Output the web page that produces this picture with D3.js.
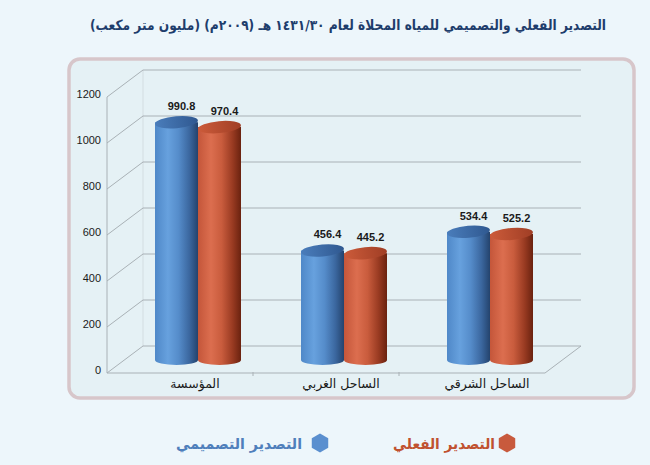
<!DOCTYPE html>
<html><head><meta charset="utf-8">
<script src="https://cdn.jsdelivr.net/npm/d3@7"></script>
<style>
html,body{margin:0;padding:0;background:#edf6fb;}
svg{display:block;}
</style></head>
<body>
<svg id="chart" width="650" height="465"></svg>
<script>
const titleText = "التصدير الفعلي والتصميمي للمياه المحلاة لعام ١٤٣١/٣٠ هـ (٢٠٠٩م) (مليون متر مكعب)";
const categories = ["المؤسسة", "الساحل الغربي", "الساحل الشرقي"];
const seriesNames = ["التصدير التصميمي", "التصدير الفعلي"];
const designValues = [990.8, 456.4, 534.4];
const actualValues = [970.4, 445.2, 525.2];
const yTicks = [0, 200, 400, 600, 800, 1000, 1200];

const svg = d3.select("#chart");
const defs = svg.append("defs");

function hGrad(id, stops){
  const g = defs.append("linearGradient").attr("id", id).attr("x1","0%").attr("x2","100%").attr("y1","0%").attr("y2","0%");
  stops.forEach(s => g.append("stop").attr("offset", s[0]).attr("stop-color", s[1]));
}
hGrad("bodyBlue", [[0,"#4f88c8"],[0.3,"#67a1de"],[0.55,"#558cca"],[0.8,"#3b679f"],[1,"#24436d"]]);
hGrad("bodyRed", [[0,"#c4563a"],[0.3,"#dc6e4f"],[0.55,"#c95c3d"],[0.8,"#9a3b22"],[1,"#6a220f"]]);
hGrad("topBlue", [[0,"#4a7dbb"],[1,"#2f5890"]]);
hGrad("topRed", [[0,"#cc5b3a"],[1,"#a03e25"]]);
const bodyFill = ["url(#bodyBlue)", "url(#bodyRed)"];
const topFill = ["url(#topBlue)", "url(#topRed)"];
const legendFill = ["#5a8fcf", "#c85a3d"];
const legendText = ["#4f7fbb", "#c0512f"];

// Title
svg.append("text")
  .attr("x", 348).attr("y", 30)
  .attr("text-anchor", "middle")
  .attr("direction", "rtl")
  .attr("font-family", "DejaVu Sans, sans-serif")
  .attr("font-weight", "bold")
  .attr("font-size", 14)
  .attr("fill", "#1e3d6c")
  .attr("textLength", 516)
  .attr("lengthAdjust", "spacingAndGlyphs")
  .text(titleText);

// Panel
svg.append("rect")
  .attr("x", 69).attr("y", 59).attr("width", 565).attr("height", 339)
  .attr("rx", 11).attr("ry", 11)
  .attr("fill", "#e5f1f5").attr("stroke", "#d7c6ca").attr("stroke-width", 3.5);

// Scales
const depthX = 36, depthY = -27;
const yFront = d3.scaleLinear().domain([0, 1200]).range([373, 97]);
const xBand = d3.scaleBand().domain(categories).range([107, 545]).padding(0);
const barW = 43;
const xSeries = d3.scaleBand().domain(seriesNames).range([-barW, barW]).padding(0);
const yBar = d3.scaleLinear().domain([0, 1200]).range([360, 72]);

const grid = svg.append("g").attr("stroke", "#a9b1b6").attr("stroke-width", 1).attr("fill", "none");
yTicks.forEach(v => {
  const yf = yFront(v);
  grid.append("line").attr("x1", 107 + depthX).attr("x2", 545 + depthX).attr("y1", yf + depthY).attr("y2", yf + depthY);
  grid.append("line").attr("x1", 107).attr("y1", yf).attr("x2", 107 + depthX).attr("y2", yf + depthY);
});
grid.append("line").attr("x1", 107).attr("x2", 107).attr("y1", yFront(1200)).attr("y2", yFront(0));
grid.append("line").attr("x1", 107 + depthX).attr("x2", 107 + depthX).attr("y1", yFront(1200) + depthY).attr("y2", yFront(0) + depthY).attr("stroke-opacity", 0.3);
grid.append("line").attr("x1", 107).attr("x2", 545).attr("y1", yFront(0)).attr("y2", yFront(0));
grid.append("line").attr("x1", 545).attr("y1", yFront(0)).attr("x2", 545 + depthX).attr("y2", yFront(0) + depthY);
categories.slice(1).forEach(c => {
  const x = xBand(c);
  grid.append("line").attr("x1", x).attr("x2", x).attr("y1", yFront(0) - 1).attr("y2", yFront(0) + 3);
});

// Y axis labels via d3 axis
const yAxisG = svg.append("g")
  .attr("transform", "translate(104,-3)")
  .call(d3.axisLeft(yFront).tickValues(yTicks).tickSize(0).tickPadding(3).tickFormat(d3.format("d")));
yAxisG.select(".domain").remove();
yAxisG.selectAll("text")
  .attr("font-family", "Liberation Sans, Arial, sans-serif")
  .attr("font-size", 11).attr("fill", "#1a1a1a");

// Category labels
svg.append("g").selectAll("text").data(categories).join("text")
  .attr("x", d => xBand(d) + xBand.bandwidth() / 2 + 15)
  .attr("y", 388)
  .attr("text-anchor", "middle")
  .attr("direction", "rtl")
  .attr("font-family", "DejaVu Sans, sans-serif")
  .attr("font-size", 12.5)
  .attr("fill", "#1a1a1a")
  .text(d => d);

// Bars (cylinders)
const rows = [];
categories.forEach((c, i) => {
  [designValues[i], actualValues[i]].forEach((v, s) => rows.push({cat: c, s, name: seriesNames[s], v}));
});
const rx = barW / 2, ryTop = 6, ryBot = 5;
const barCx = d => xBand(d.cat) + xBand.bandwidth() / 2 + depthX / 2 + xSeries(d.name) + rx;
const bars = svg.append("g").selectAll("g").data(rows).join("g")
  .attr("transform", d => `translate(${barCx(d)},0)`);
bars.append("path")
  .attr("d", d => {
    const yt = yBar(d.v), yb = yBar(0);
    return `M${-rx},${yt} L${-rx},${yb} A${rx},${ryBot} 0 0 0 ${rx},${yb} L${rx},${yt} Z`;
  })
  .attr("fill", d => bodyFill[d.s]);
bars.append("ellipse")
  .attr("cx", 0).attr("cy", d => yBar(d.v))
  .attr("rx", rx).attr("ry", ryTop)
  .attr("transform", d => `rotate(-5,0,${yBar(d.v)})`)
  .attr("fill", d => topFill[d.s]);

// Value labels
svg.append("g").selectAll("text").data(rows).join("text")
  .attr("x", d => barCx(d) + 5)
  .attr("y", d => yBar(d.v) - 12)
  .attr("text-anchor", "middle")
  .attr("font-family", "Liberation Sans, Arial, sans-serif")
  .attr("font-weight", "bold")
  .attr("font-size", 11)
  .attr("fill", "#1a1a1a")
  .text(d => d3.format(".1f")(d.v));

// Legend
function hexPath(cx, cy, r){
  const pts = d3.range(6).map(k => {
    const a = Math.PI / 3 * k - Math.PI / 2;
    return [cx + r * Math.cos(a), cy + r * Math.sin(a)];
  });
  return "M" + pts.map(p => p.join(",")).join("L") + "Z";
}
const legendItems = [
  {s: 0, hx: 320, tx: 239, w: 126},
  {s: 1, hx: 507, tx: 444, w: 102}
];
const lg = svg.append("g");
legendItems.forEach(it => {
  lg.append("path").attr("d", hexPath(it.hx, 443, 9.5)).attr("fill", legendFill[it.s]);
  lg.append("text")
    .attr("x", it.tx).attr("y", 449)
    .attr("text-anchor", "middle")
    .attr("direction", "rtl")
    .attr("font-family", "DejaVu Sans, sans-serif")
    .attr("font-weight", "bold")
    .attr("font-size", 15)
    .attr("fill", legendText[it.s])
    .attr("textLength", it.w)
    .attr("lengthAdjust", "spacingAndGlyphs")
    .text(seriesNames[it.s]);
});
</script>
</body></html>
